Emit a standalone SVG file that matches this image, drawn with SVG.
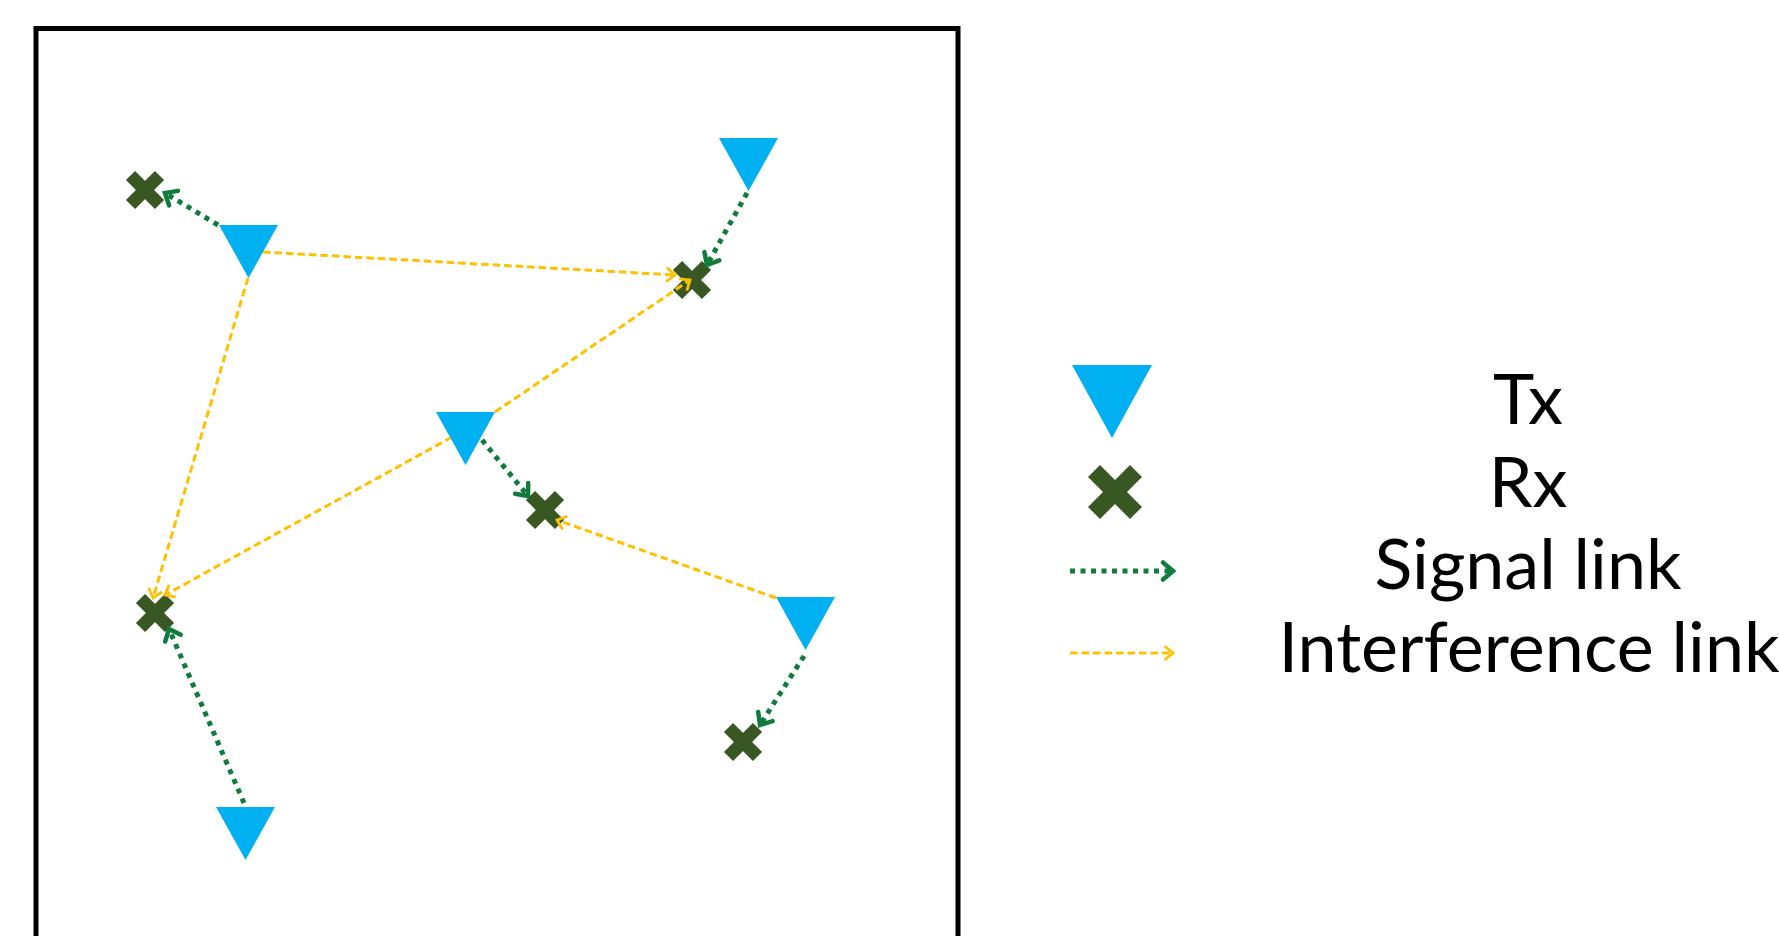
<svg xmlns="http://www.w3.org/2000/svg" width="1779" height="936" viewBox="0 0 1779 936">
  <style>
    .tx { fill: #00B0F0; }
    .rx { stroke: #385723; stroke-linecap: butt; }
    .sig { fill: none; stroke: #117A3D; stroke-width: 5; stroke-dasharray: 5 5.5; stroke-linecap: butt; marker-end: url(#arrowSig); }
    .intf { fill: none; stroke: #FFC000; stroke-width: 3; stroke-dasharray: 7.5 4; marker-end: url(#arrowIntf); }
    .lbl { font-family: Lato, "Liberation Sans", sans-serif; font-size: 70px; fill: #000; text-anchor: middle; }
  </style>
  <defs>
    <marker id="arrowSig" markerUnits="userSpaceOnUse" viewBox="-16 -14 20 28" markerWidth="20" markerHeight="28" refX="0" refY="0" orient="auto" overflow="visible">
      <path d="M-10,-8.5 L0,0 L-10,8.5" fill="none" stroke="#117A3D" stroke-width="4.5" stroke-linecap="round" stroke-linejoin="miter"/>
    </marker>
    <marker id="arrowIntf" markerUnits="userSpaceOnUse" viewBox="-14 -10 16 20" markerWidth="16" markerHeight="20" refX="0" refY="0" orient="auto" overflow="visible">
      <path d="M-8.5,-7 L0,0 L-8.5,7" fill="none" stroke="#FFC000" stroke-width="2.8" stroke-linejoin="miter"/>
    </marker>
    <!-- receiver cross, centred on the origin -->
    <g id="cross">
      <line class="rx" x1="-14.5" y1="-14.5" x2="14.5" y2="14.5" stroke-width="13"/>
      <line class="rx" x1="-14.5" y1="14.5" x2="14.5" y2="-14.5" stroke-width="13"/>
    </g>
  </defs>

  <rect x="0" y="0" width="1779" height="936" fill="#fff"/>

  <!-- deployment area -->
  <rect id="area" x="36" y="28.5" width="922" height="960" fill="none" stroke="#000" stroke-width="5"/>

  <!-- receivers -->
  <g id="rx1"><use href="#cross" x="145" y="190"/></g>
  <g id="rx2"><use href="#cross" x="692" y="280"/></g>
  <g id="rx3"><use href="#cross" x="545" y="510"/></g>
  <g id="rx4"><use href="#cross" x="155" y="613"/></g>
  <g id="rx5"><use href="#cross" x="743" y="742"/></g>

  <!-- links -->
  <g id="connectors">
    <line class="intf" x1="263" y1="252" x2="675" y2="275"/>
    <line class="intf" x1="495" y1="412" x2="690" y2="280"/>
    <line class="intf" x1="248" y1="278" x2="153" y2="598"/>
    <line class="intf" x1="452" y1="437" x2="165" y2="595"/>
    <line class="intf" x1="776" y1="598" x2="557" y2="520"/>

    <line class="sig" x1="218" y1="225" x2="165" y2="193"/>
    <line class="sig" x1="747" y1="193" x2="707" y2="265"/>
    <line class="sig" x1="482" y1="440" x2="528" y2="496"/>
    <line class="sig" x1="244" y1="803" x2="169" y2="629"/>
    <line class="sig" x1="804" y1="656" x2="760" y2="725"/>
  </g>

  <!-- transmitters -->
  <g id="tx1"><polygon class="tx" points="219,225 278,225 248.5,278"/></g>
  <g id="tx2"><polygon class="tx" points="719,138 778,138 748.5,191"/></g>
  <g id="tx3"><polygon class="tx" points="436,412 495,412 465.5,465"/></g>
  <g id="tx4"><polygon class="tx" points="776,597 835,597 805.5,650"/></g>
  <g id="tx5"><polygon class="tx" points="216,807 275,807 245.5,860"/></g>

  <!-- legend -->
  <g id="legend">
    <polygon class="tx" points="1072,365 1152,365 1112,438"/>
    <g transform="translate(1115,492)">
      <line class="rx" x1="-21" y1="-21" x2="21" y2="21" stroke-width="17"/>
      <line class="rx" x1="-21" y1="21" x2="21" y2="-21" stroke-width="17"/>
    </g>
    <line class="sig" x1="1070" y1="571" x2="1173" y2="571"/>
    <line class="intf" x1="1070" y1="653" x2="1173" y2="653"/>
    <text class="lbl" x="1528" y="424">Tx</text>
    <text class="lbl" x="1528" y="507">Rx</text>
    <text class="lbl" x="1528" y="589">Signal link</text>
    <text class="lbl" x="1529" y="672">Interference link</text>
  </g>
</svg>
